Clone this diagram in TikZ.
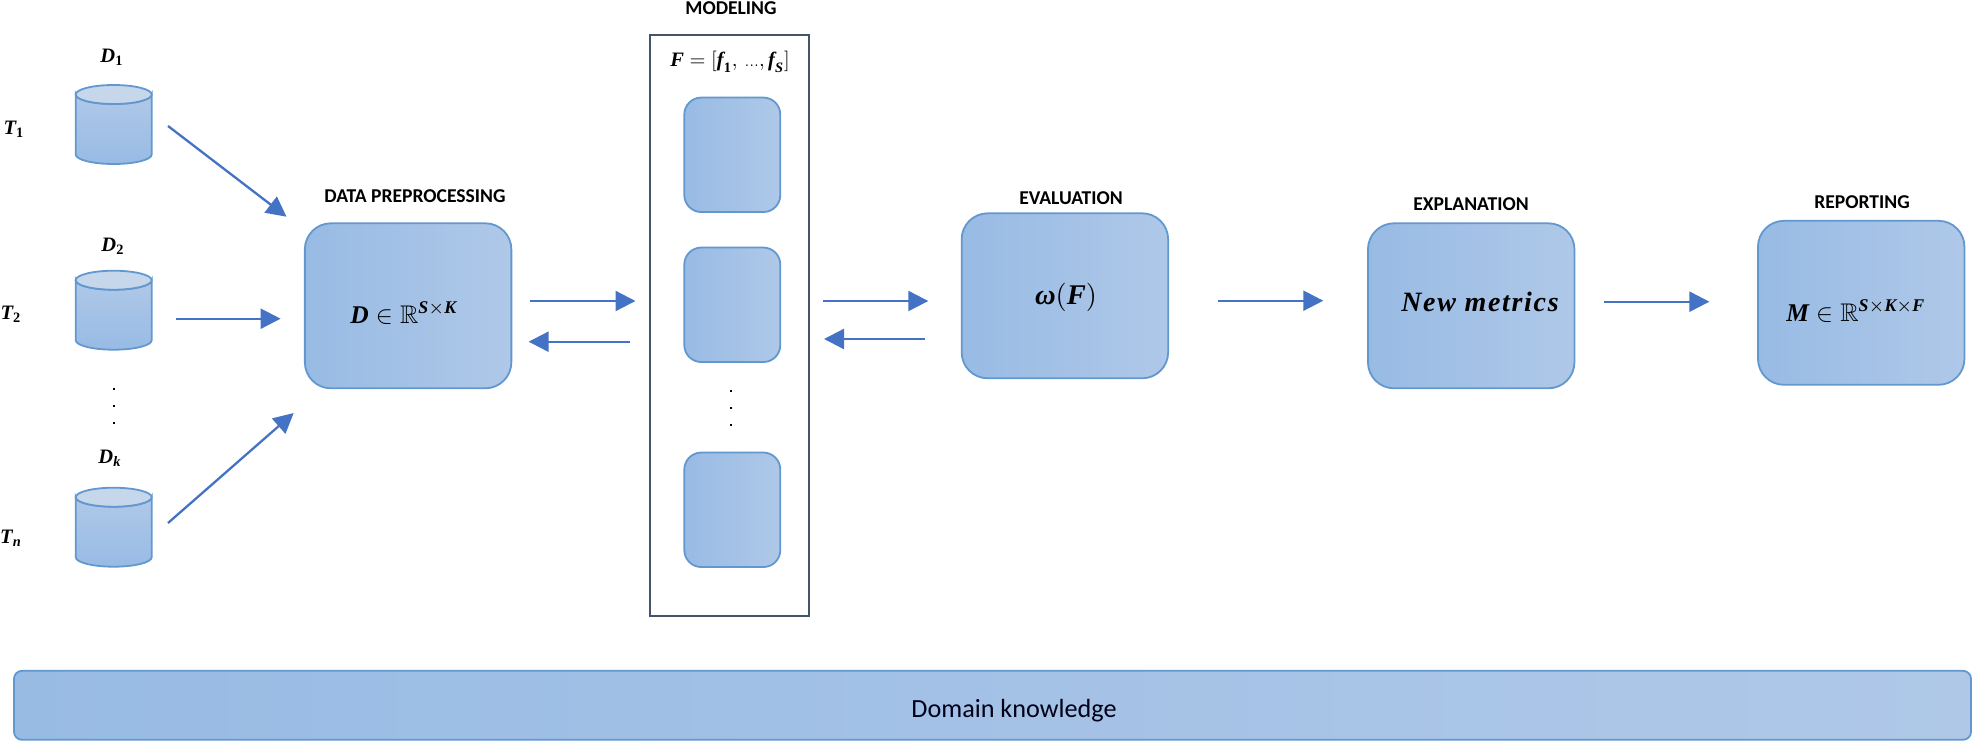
\documentclass[tikz,border=0pt]{standalone}
\usepackage{amsmath,amssymb}
\usepackage{fontspec}
\setmainfont{Carlito}
\newfontfamily\mbfam{Liberation Serif}
\newfontfamily\mbspaced{Liberation Serif}[LetterSpace=6]
\newcommand{\bmi}[1]{\text{\mbfam\bfseries\itshape #1}}
\newcommand{\bmu}[1]{\text{\mbfam\bfseries #1}}
\usetikzlibrary{arrows.meta}
\definecolor{gradL}{HTML}{98BBE4}
\definecolor{gradR}{HTML}{AFC8E8}
\definecolor{edgeblue}{HTML}{6298CF}
\definecolor{arrowblue}{HTML}{4472C4}
\definecolor{framegray}{HTML}{44546A}
\definecolor{lidblue}{HTML}{C6D7EC}
\tikzset{
  x=1pt,y=-1pt,
  gbox/.style={draw=edgeblue,line width=1.8pt,left color=gradL,right color=gradR,inner sep=0pt,outer sep=0pt},
  bigbox/.style={gbox,minimum width=206.5pt,minimum height=165pt,rounded corners=26pt},
  modelbox/.style={gbox,minimum width=96pt,minimum height=114.5pt,rounded corners=17pt},
  caption/.style={font=\bfseries\fontsize{19.6}{22}\selectfont,inner sep=0pt,text=black},
  mathlbl/.style={inner sep=0pt,scale=2.05,text=black},
  biglbl/.style={inner sep=0pt,scale=2.55,text=black},
  flow/.style={draw=arrowblue,line width=2.3pt,-{Triangle[length=20pt,width=20pt,fill=arrowblue]}},
  dotmark/.style={fill=black,minimum size=2pt,inner sep=0pt,outer sep=0pt},
  dbcyl/.pic={
    \path[draw=edgeblue,line width=1.8pt,top color=gradR,bottom color=gradL]
      (-38,9.5) -- (-38,69.5)
      arc[start angle=180,end angle=0,x radius=38,y radius=9.5]
      -- (38,9.5) arc[start angle=0,end angle=180,x radius=38,y radius=9.5] -- cycle;
    \path[draw=edgeblue,line width=1.8pt,fill=lidblue] (0,9.5) ellipse[x radius=38,y radius=9.5];
  }
}
\begin{document}
\begin{tikzpicture}
\useasboundingbox (0,0) rectangle (1973,742);
% data stores
\pic at (113.7,85) {dbcyl};
\pic at (113.7,270.7) {dbcyl};
\pic at (113.7,487.7) {dbcyl};
\node[mathlbl] (d1) at (112,57) {$\bmi{D}_{\bmu{1}}$};
\node[mathlbl] (d2) at (113,246) {$\bmi{D}_{\bmu{2}}$};
\node[mathlbl] (dk) at (110,458) {$\bmi{D}_{\bmi{k}}$};
\node[mathlbl] (t1) at (14,129) {$\bmi{T}_{\bmu{1}}$};
\node[mathlbl] (t2) at (11,314) {$\bmi{T}_{\bmu{2}}$};
\node[mathlbl] (tn) at (11,538) {$\bmi{T}_{\bmi{n}}$};
\node[dotmark] (da) at (113.5,388.5) {};
\node[dotmark] (db) at (113.5,405.5) {};
\node[dotmark] (dc) at (113.5,422.5) {};
% boxes
\node[bigbox] (prep) at (408.1,305.8) {};
\node[caption] (prepcap) at (415,196) {DATA PREPROCESSING};
\node[biglbl] (prepm) at (404,313) {$\bmi{D}\in\mathbb{R}^{\bmi{S}\times\bmi{K}}$};
\node[draw=framegray,line width=2pt,minimum width=159.5pt,minimum height=581.4pt,inner sep=0pt,outer sep=0pt] (model) at (729.6,325.4) {};
\node[caption] (modelcap) at (731,8) {MODELING};
\node[mathlbl] (modelf) at (730,62) {$\bmi{F}=[\bmi{f}_{\bmu{1}},\,{\scriptstyle\dots},\bmi{f}_{\bmi{S}}]$};
\node[modelbox] (m1) at (732.3,154.8) {};
\node[modelbox] (m2) at (732.3,304.8) {};
\node[modelbox] (m3) at (732.3,509.8) {};
\node[dotmark] (ma) at (730.5,390.5) {};
\node[dotmark] (mb) at (730.5,407.5) {};
\node[dotmark] (mc) at (730.5,424.5) {};
\node[bigbox] (eval) at (1064.9,295.8) {};
\node[caption] (evalcap) at (1071,198) {EVALUATION};
\node[inner sep=0pt,scale=2.85,text=black] (evalm) at (1066,297) {$\bmi{ω}(\bmi{F})$};
\node[bigbox] (expl) at (1471.2,305.8) {};
\node[caption] (explcap) at (1471,204) {EXPLANATION};
\node[inner sep=0pt,scale=2.8,text=black] (explm) at (1480,302) {\mbspaced\bfseries\itshape New metrics};
\node[bigbox,minimum height=164pt] (rep) at (1861.2,302.8) {};
\node[caption] (repcap) at (1862,202) {REPORTING};
\node[biglbl] (repm) at (1856,311) {$\bmi{M}\in\mathbb{R}^{\bmi{S}\times\bmi{K}\times\bmi{F}}$};
\node[gbox,minimum width=1957pt,minimum height=69pt,rounded corners=8pt] (domain) at (992.5,705.3) {};
\node[inner sep=0pt,font=\fontsize{26.2}{30}\selectfont,text=black!90!blue] (domaintxt) at (1014,710.5) {Domain knowledge};
% connector ends
\coordinate (o1) at (168,126);   \coordinate (i1) at (286.5,216.7);
\coordinate (o2) at (176,318.7); \coordinate (i2) at (280.6,318.7);
\coordinate (o3) at (168,523);   \coordinate (i3) at (293.7,413);
\coordinate (po) at (530,301);   \coordinate (mi) at (635.5,301);
\coordinate (mo) at (630,341.7); \coordinate (pi) at (528.6,341.7);
\coordinate (mr) at (823.2,301); \coordinate (ei) at (928.3,301);
\coordinate (eo) at (925.4,339); \coordinate (mj) at (824,339);
\coordinate (er) at (1218.2,300.7); \coordinate (xi) at (1323.3,300.7);
\coordinate (xo) at (1603.8,301.7); \coordinate (ri) at (1709.4,301.7);
\draw[flow] (o1) -- (i1);
\draw[flow] (o2) -- (i2);
\draw[flow] (o3) -- (i3);
\draw[flow] (po) -- (mi);
\draw[flow] (mo) -- (pi);
\draw[flow] (mr) -- (ei);
\draw[flow] (eo) -- (mj);
\draw[flow] (er) -- (xi);
\draw[flow] (xo) -- (ri);
\end{tikzpicture}
\end{document}
